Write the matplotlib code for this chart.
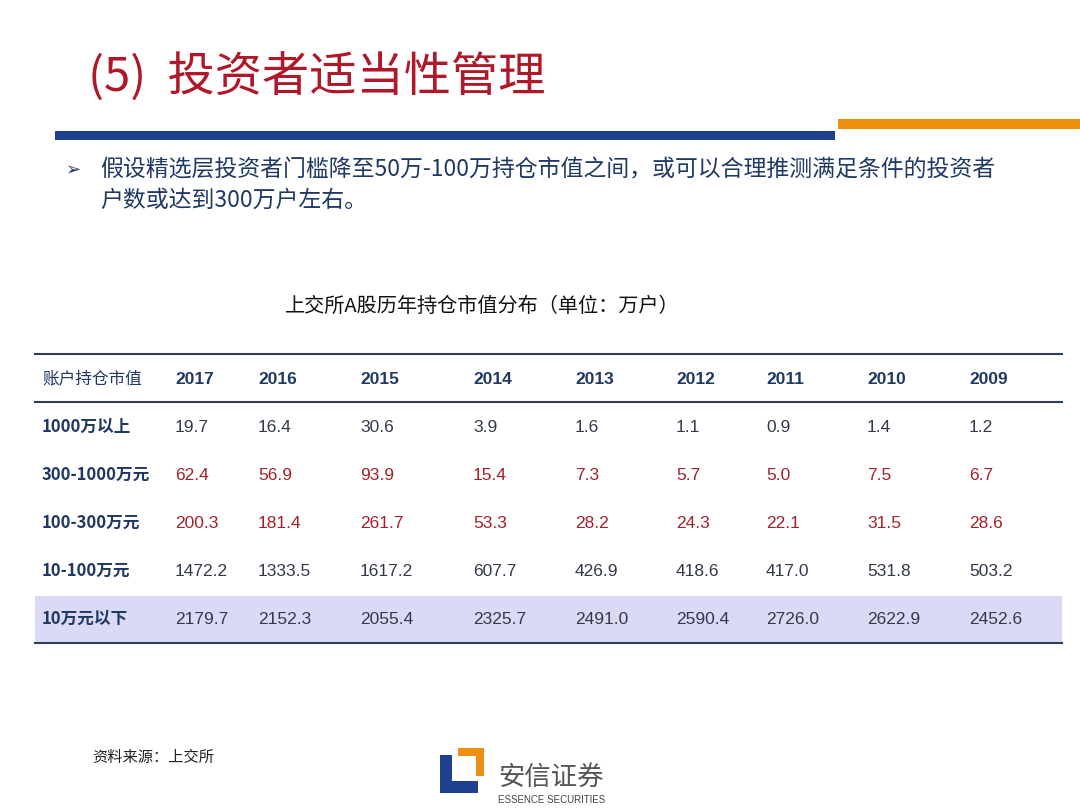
import matplotlib
matplotlib.use("Agg")
import matplotlib.pyplot as plt
from matplotlib.patches import Rectangle

CJK = "Noto Sans CJK SC"
years = ["2017", "2016", "2015", "2014", "2013", "2012", "2011", "2010", "2009"]
row_labels = ["1000万以上", "300-1000万元", "100-300万元", "10-100万元", "10万元以下"]
v_1000plus = [19.7, 16.4, 30.6, 3.9, 1.6, 1.1, 0.9, 1.4, 1.2]
v_300_1000 = [62.4, 56.9, 93.9, 15.4, 7.3, 5.7, 5.0, 7.5, 6.7]
v_100_300 = [200.3, 181.4, 261.7, 53.3, 28.2, 24.3, 22.1, 31.5, 28.6]
v_10_100 = [1472.2, 1333.5, 1617.2, 607.7, 426.9, 418.6, 417.0, 531.8, 503.2]
v_below10 = [2179.7, 2152.3, 2055.4, 2325.7, 2491.0, 2590.4, 2726.0, 2622.9, 2452.6]
rows = [v_1000plus, v_300_1000, v_100_300, v_10_100, v_below10]
red_rows = [1, 2]

W, H = 1080, 810
fig = plt.figure(figsize=(10.8, 8.1), dpi=100)
ax = fig.add_axes([0, 0, 1, 1])
ax.set_xlim(0, W); ax.set_ylim(H, 0); ax.axis("off")

navy = "#1f3864"
# title
ax.text(88, 78, "(5)  投资者适当性管理", fontsize=34, color="#b0182a", fontfamily=CJK, va="center")
ax.add_patch(Rectangle((55, 131), 780, 9, color="#1f3f8f", lw=0))
ax.add_patch(Rectangle((838, 119), 242, 10, color="#ef8f10", lw=0))
# bullet
ax.text(66, 170, "➢", fontsize=13, color=navy, fontfamily="DejaVu Sans", va="center")
ax.text(100, 170, "假设精选层投资者门槛降至50万-100万持仓市值之间，或可以合理推测满足条件的投资者",
        fontsize=16.5, color=navy, fontfamily=CJK, va="center")
ax.text(100, 200, "户数或达到300万户左右。", fontsize=16.5, color=navy, fontfamily=CJK, va="center")
# table title
ax.text(482, 306, "上交所A股历年持仓市值分布（单位：万户）", fontsize=14.5, color="#111111",
        fontfamily=CJK, va="center", ha="center")

colx = [175, 258, 360, 473, 575, 676, 766, 867, 969]
rowy = [427, 475, 523, 571, 619]
ax.add_patch(Rectangle((35, 596), 1027, 47, color="#dadaf7", lw=0))
for y in (354, 402, 643):
    ax.plot([35, 1062], [y, y], color="#2b3f5c", lw=1.5)
ax.text(42, 379, "账户持仓市值", fontsize=12, color=navy, fontfamily=CJK, va="center")
for x, yr in zip(colx, years):
    ax.text(x, 379, yr, fontsize=12.5, color=navy, fontweight="bold", fontfamily="Liberation Sans", va="center")
for i, (lab, vals) in enumerate(zip(row_labels, rows)):
    y = rowy[i]
    ax.text(42, y, lab, fontsize=12, color=navy, fontweight="bold", fontfamily=CJK, va="center")
    c = "#a3202c" if i in red_rows else "#33394a"
    for x, v in zip(colx, vals):
        ax.text(x, y, f"{v:.1f}", fontsize=12.5, color=c, fontfamily="Liberation Sans", va="center")

ax.text(92, 757, "资料来源：上交所", fontsize=11, color="#222222", fontfamily=CJK, va="center", style="italic")
# logo
ax.add_patch(Rectangle((440, 755), 12, 38, color="#1f3f8f", lw=0))
ax.add_patch(Rectangle((440, 781), 38, 12, color="#1f3f8f", lw=0))
ax.add_patch(Rectangle((458, 748), 26, 8, color="#ef8f10", lw=0))
ax.add_patch(Rectangle((476, 748), 8, 28, color="#ef8f10", lw=0))
ax.text(498, 777, "安信证券", fontsize=19, color="#555555", fontfamily=CJK, va="center")
ax.text(498, 800, "ESSENCE SECURITIES", fontsize=7, color="#444444", fontfamily="Liberation Sans", va="center")

fig.savefig("out.png", dpi=100)
